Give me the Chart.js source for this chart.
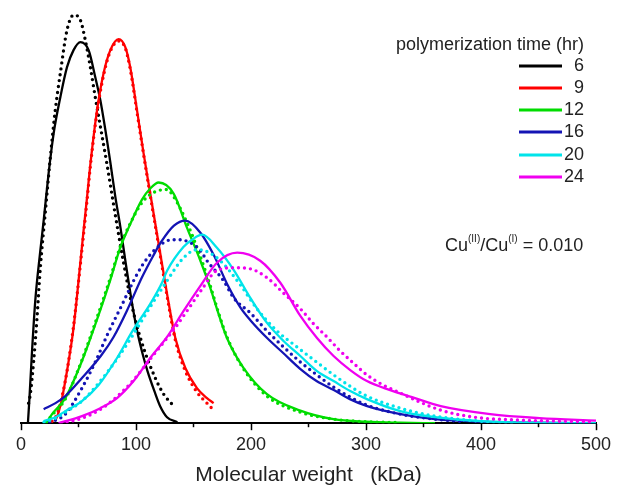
<!DOCTYPE html>
<html>
<head>
<meta charset="utf-8">
<script src="https://cdn.jsdelivr.net/npm/chart.js@4.4.1/dist/chart.umd.min.js"></script>
<style>
  html, body { margin: 0; padding: 0; background: #fff; }
  #wrap { width: 617px; height: 488px; }
</style>
</head>
<body>
<div id="wrap"><canvas id="grafico" width="617" height="488"></canvas></div>
<script>
// Curvas: peso molecular (kDa) y altura relativa
// "s" = línea continua, "d" = línea punteada

// 6 h
const kda6s = [6, 7.2, 9.6, 12.4, 16.8, 19.7, 24, 28.4, 34.2, 40, 45.7, 51.6, 58.8, 64.6, 69, 74.8, 77.7, 82, 86.5, 91, 96.5, 101, 106, 110, 116, 121, 127, 136];
const h6s = [0, 22, 72, 122, 172, 202, 249, 289, 325, 355, 372, 380, 372, 345, 322, 282, 260, 226, 195, 160, 120, 92, 68, 52, 32, 17, 6, 1];
const kda6d = [6.6, 8.1, 11, 13.9, 16.8, 21.1, 25.5, 29.8, 34.2, 40, 45.8, 51.6, 55.9, 60.3, 64.6, 69, 74.8, 80.5, 89.2, 97.9, 106.6, 116.8, 124, 131.3];
const h6d = [20, 29, 62, 105, 155, 210, 265, 312, 349, 392, 407, 402, 382, 355, 325, 296, 258, 218, 160, 110, 75, 45, 29, 19];

// 9 h
const kda9s = [30, 32.2, 35.7, 40, 45.7, 51.6, 54.4, 57.4, 60.3, 66.1, 71.8, 77.7, 84.9, 90.7, 95, 100.9, 106.6, 112.4, 119.7, 127, 134.2, 142.9, 153, 161.7, 167.5];
const h9s = [3, 9, 25, 52, 95, 160, 192, 225, 258, 312, 349, 372, 383, 375, 355, 312, 269, 229, 179, 129, 85, 55, 35, 25, 20];
const kda9d = [27, 30, 33, 36, 40, 45.7, 51.6, 57.4, 60.3, 66.1, 71.8, 77.7, 84.9, 90.7, 95, 100.9, 106.6, 112.4, 119.7, 127, 134.2, 142.9, 153, 161.7, 167.5];
const h9d = [2, 6, 14, 28, 52, 97, 158, 222, 256, 310, 347, 371, 381, 374, 353, 310, 268, 227, 177, 127, 83, 52, 31, 20, 13];

// 12 h
const kda12s = [22, 27, 38.5, 53, 67.5, 77.7, 86.3, 93.6, 105.2, 112.4, 119.7, 132.7, 144.3, 156, 164.6, 171.8, 179.1, 193.6, 213.9, 242.9, 271.8, 300, 330, 360];
const h12s = [0, 9, 25, 62, 108, 143, 175, 195, 223, 234, 240, 229, 195, 162, 135, 109, 85, 55, 29, 12.5, 4, 1.5, 0.5, 0];
const kda12d = [22, 27, 38.5, 53, 67.5, 77.7, 86.3, 93.6, 105.2, 112.4, 119.7, 126.8, 132.7, 144.3, 156, 164.6, 171.8, 179.1, 193.6, 213.9, 242.9, 271.8, 300, 330];
const h12d = [1, 8, 24, 63, 110, 145, 176, 196, 220, 228, 232, 233, 226, 200, 166, 137, 110, 86, 54, 27, 11, 4, 1.5, 0.5];

// 16 h
const kda16s = [19.7, 30, 38.5, 53, 70, 80.5, 92, 105, 115, 122, 133, 142.9, 156, 167.5, 180, 191, 200, 214, 228, 243, 257, 272, 286, 301, 330, 360, 400, 450, 500];
const h16s = [14, 20, 27, 45, 68, 86, 112, 145, 167, 181, 197, 202, 190, 168, 137, 115, 102, 85, 70, 54, 42, 33, 24, 17, 9, 4, 1.5, 0.5, 0];
const kda16d = [25, 30, 38.5, 53, 65, 75, 87.8, 97.9, 105.2, 112.4, 122.6, 131.3, 137, 147.2, 156, 161.7, 176.2, 184.9, 199.4, 213.9, 228.3, 242.9, 257.4, 271.8, 286.3, 300.8, 329.8, 360, 385];
const h16d = [1, 3, 9, 35, 62, 88, 118, 142, 157, 168, 179, 183, 183, 180, 172, 162, 142, 125, 110, 92, 76, 61, 48, 36, 26, 18, 9, 4, 1.5];

// 20 h
const kda20s = [19.7, 30, 38.5, 53, 67.5, 83.5, 97, 112.4, 122.6, 127, 141.4, 148.7, 157.5, 170.4, 184.9, 199.4, 213.9, 228.3, 242.9, 257.4, 271.8, 286.3, 300.8, 329.8, 360, 400, 440, 500];
const h20s = [2, 6, 12, 22, 38, 65, 92, 119, 140, 152, 176, 183, 188, 175, 153, 125, 100, 82, 67, 52, 42, 32, 24, 12, 6, 2, 0.5, 0];
const kda20d = [20, 30, 38.5, 53, 67.5, 83.5, 97.9, 112.4, 127, 141.4, 153, 160, 173.3, 190.7, 205.2, 222.6, 240, 257, 272, 286, 300.8, 329.8, 360, 400, 430];
const h20d = [1, 5, 11, 22, 40, 64, 89, 116, 142, 165, 173, 172, 162, 138, 114, 92, 76, 61, 48, 37, 27, 15, 7, 2, 0.5];

// 24 h
const kda24s = [32.7, 53, 69, 83.5, 97.9, 112.4, 127, 141.4, 156, 170.4, 188, 208, 225.5, 242.9, 257.4, 271.8, 286.3, 300.8, 321, 340, 365, 408, 451, 500];
const h24s = [0, 7, 15, 25, 42, 65, 86, 112, 137, 160, 170, 162, 140, 107, 85, 67, 53, 42, 33, 26, 17, 9, 5, 2.5];
const kda24d = [35, 53, 68, 82, 97, 111, 125, 134, 145, 157, 170, 185, 199, 214, 228, 243, 254.5, 266, 277.6, 289, 301, 315, 330, 345, 365, 394, 437, 495];
const h24d = [0, 5, 13, 25, 42, 62, 82, 95, 113, 133, 152, 155, 154, 145, 130, 114, 99, 86, 72, 60, 48, 38, 30, 22, 13, 6, 3, 1.3];

const tiempos = ['6', '9', '12', '16', '20', '24'];
const colores = ['#000000', '#ff0000', '#00dc00', '#1414b4', '#00e4ea', '#f000f0'];
const ticksX = [0, 100, 200, 300, 400, 500];

const fuente = "'Liberation Sans', Arial, Helvetica, sans-serif";

function puntos(xs, ys) {
    return xs.map((x, i) => ({ x: x, y: ys[i] }));
}

function continua(xs, ys, color) {
    return { data: puntos(xs, ys), borderColor: color, borderWidth: 2.3, pointRadius: 0, fill: false };
}

function punteada(xs, ys, color) {
    return {
        data: puntos(xs, ys), borderColor: color, borderWidth: 3.4, pointRadius: 0, fill: false,
        borderDash: [0, 6], borderCapStyle: 'round'
    };
}

const datasets = [
    punteada(kda24d, h24d, colores[5]), continua(kda24s, h24s, colores[5]),
    punteada(kda20d, h20d, colores[4]), continua(kda20s, h20s, colores[4]),
    punteada(kda16d, h16d, colores[3]), continua(kda16s, h16s, colores[3]),
    punteada(kda12d, h12d, colores[2]), continua(kda12s, h12s, colores[2]),
    punteada(kda9d, h9d, colores[1]), continua(kda9s, h9s, colores[1]),
    punteada(kda6d, h6d, colores[0]), continua(kda6s, h6s, colores[0])
];

// Marcas menores, leyenda y anotación
const extras = {
    id: 'extras',
    afterDraw(chart) {
        const ctx = chart.ctx;
        const x = chart.scales.x;
        const base = chart.chartArea.bottom;
        ctx.save();
        ctx.strokeStyle = '#000';
        ctx.lineWidth = 1.5;
        for (let v = 50; v < 500; v += 100) {
            const px = x.getPixelForValue(v);
            ctx.beginPath();
            ctx.moveTo(px, base);
            ctx.lineTo(px, base + 4);
            ctx.stroke();
        }

        // Leyenda
        ctx.fillStyle = '#222';
        ctx.textBaseline = 'middle';
        ctx.textAlign = 'right';
        ctx.font = '18px ' + fuente;
        ctx.fillText('polymerization time (hr)', 584, 45);
        const filas = [66, 88, 110, 132, 155, 177];
        tiempos.forEach((t, i) => {
            ctx.strokeStyle = colores[i];
            ctx.lineWidth = 3;
            ctx.beginPath();
            ctx.moveTo(519, filas[i]);
            ctx.lineTo(562, filas[i]);
            ctx.stroke();
            ctx.fillStyle = '#222';
            ctx.fillText(t, 584, filas[i]);
        });

        // Cu(II)/Cu(I) = 0.010
        ctx.textAlign = 'left';
        let cx = 445;
        const cy = 246;
        const partes = [['Cu', 0], ['(II)', 1], ['/Cu', 0], ['(I)', 1], [' = 0.010', 0]];
        partes.forEach(p => {
            ctx.font = (p[1] ? '10px ' : '18px ') + fuente;
            const dy = p[1] ? -7 : 0;
            ctx.fillText(p[0], cx, cy + dy);
            cx += ctx.measureText(p[0]).width;
        });
        ctx.restore();
    }
};

new Chart(document.getElementById('grafico'), {
    type: 'line',
    data: { datasets: datasets },
    plugins: [extras],
    options: {
        responsive: false,
        animation: false,
        layout: { padding: { left: 21, right: 21, top: 2, bottom: 0 } },
        plugins: { legend: { display: false }, tooltip: { enabled: false } },
        elements: { line: { cubicInterpolationMode: 'monotone' }, point: { radius: 0 } },
        scales: {
            x: {
                type: 'linear',
                min: 0,
                max: 500,
                afterBuildTicks: (s) => { s.ticks = ticksX.map(v => ({ value: v })); },
                border: { display: true, color: '#000', width: 2 },
                grid: { display: true, drawOnChartArea: false, drawTicks: true, tickLength: 7, color: '#000', tickWidth: 1.5 },
                ticks: { color: '#222', padding: 4, maxRotation: 0, font: { family: fuente, size: 18 } },
                title: {
                    display: true, text: 'Molecular weight   (kDa)', color: '#222',
                    font: { family: fuente, size: 21 }, padding: { top: 3, bottom: 0 }
                }
            },
            y: { display: false, min: 0, max: 420 }
        }
    }
});
</script>
</body>
</html>
